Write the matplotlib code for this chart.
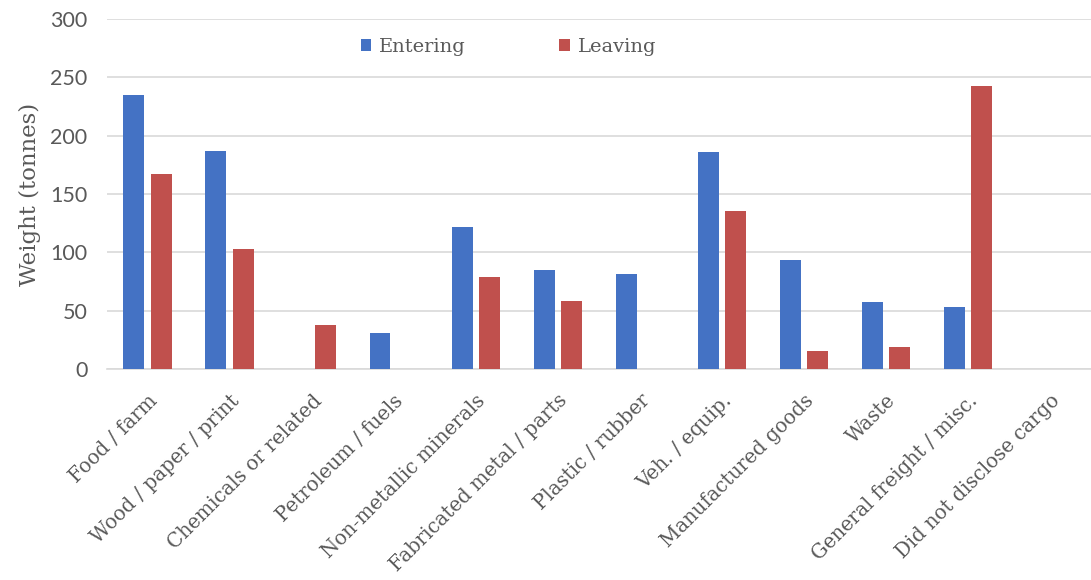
import matplotlib
matplotlib.use("Agg")
import matplotlib.pyplot as plt
import numpy as np

categories = [
    "Food / farm", "Wood / paper / print", "Chemicals or related",
    "Petroleum / fuels", "Non-metallic minerals", "Fabricated metal / parts",
    "Plastic / rubber", "Veh. / equip.", "Manufactured goods", "Waste",
    "General freight / misc.", "Did not disclose cargo",
]
entering = [235, 187, 0, 31, 122, 85, 81, 186, 93, 57, 53, 0]
leaving = [167, 103, 38, 0, 79, 58, 0, 135, 15, 19, 243, 0]
yticks = [0, 50, 100, 150, 200, 250, 300]

BLUE = "#4472C4"
RED = "#C0504D"
TEXT = "#595959"
GRID = "#D9D9D9"
SERIF = ["DejaVu Serif"]

fig = plt.figure(figsize=(10.91, 5.80), dpi=100)
ax = fig.add_axes([0.098, 0.364, 0.902, 0.603])

x = np.arange(len(categories))
w = 0.256
ax.bar(x - 0.17, entering, width=w, color=BLUE, label="Entering", zorder=3)
ax.bar(x + 0.17, leaving, width=w, color=RED, label="Leaving", zorder=3)

ax.set_xlim(-0.5, len(categories) - 0.5)
ax.set_ylim(0, 300)
ax.set_yticks(yticks)
ax.set_yticklabels([str(v) for v in yticks], fontsize=15.5, color=TEXT, family="Lato")
ax.yaxis.grid(True, color=GRID, linewidth=1.2, zorder=0)
ax.set_axisbelow(True)
ax.tick_params(axis="y", length=0, pad=14)
ax.tick_params(axis="x", length=0, pad=16)

ax.set_xticks(x)
ax.set_xticklabels(categories, rotation=45, ha="right", rotation_mode="anchor",
                   fontsize=14.2, color=TEXT, family=SERIF)

ax.set_ylabel("Weight (tonnes)", fontsize=16.5, color=TEXT, family=SERIF, labelpad=7)

for s in ["top", "right", "left"]:
    ax.spines[s].set_visible(False)
ax.spines["bottom"].set_color(GRID)
ax.spines["bottom"].set_linewidth(1.2)

ax.legend(loc="upper center", bbox_to_anchor=(0.408, 0.997), ncol=2, frameon=False,
          prop={"family": SERIF, "size": 14}, labelcolor=TEXT,
          handlelength=0.55, handleheight=0.55, handletextpad=0.4, columnspacing=4.8)

fig.savefig("out.png", dpi=100, facecolor="white")
